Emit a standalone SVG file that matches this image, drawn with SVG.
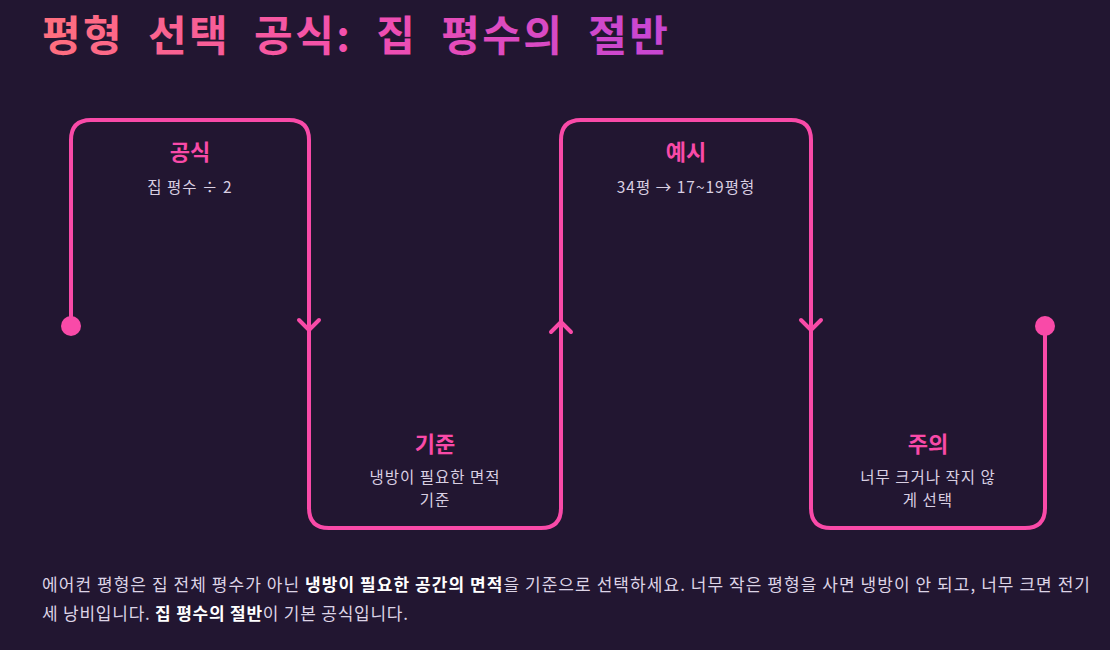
<svg xmlns="http://www.w3.org/2000/svg" width="1110" height="650" viewBox="0 0 1110 650">
<defs>
<linearGradient id="tg" x1="42" y1="0" x2="670" y2="0" gradientUnits="userSpaceOnUse">
<stop offset="0" stop-color="#ff6f7d"/>
<stop offset="0.5" stop-color="#f24fae"/>
<stop offset="1" stop-color="#c646d4"/>
</linearGradient>
<style>
.t{font-family:"Noto Sans CJK KR","Noto Sans",sans-serif}
.h{font-size:22px;font-weight:700;fill:#f94aa8;text-anchor:middle}
.s{font-size:15.5px;fill:#d9cfe2;text-anchor:middle;letter-spacing:1px}
.p{font-size:17px;fill:#ddd4e6}
.b{font-weight:700;fill:#ffffff}
.ln{fill:none;stroke:#f94aa8;stroke-width:4;stroke-linecap:round;stroke-linejoin:round}
</style>
</defs>
<rect width="1110" height="650" fill="#221631"/>
<text class="t" x="42" y="51" font-size="42" font-weight="700" fill="url(#tg)" word-spacing="12" textLength="626" lengthAdjust="spacing">평형 선택 공식: 집 평수의 절반</text>
<g id="connectors">
<path class="ln" d="M71 326 V140 Q71 120 91 120 H289 Q309 120 309 140 V508 Q309 528 329 528 H541 Q561 528 561 508 V140 Q561 120 581 120 H791 Q811 120 811 140 V508 Q811 528 831 528 H1025 Q1045 528 1045 508 V326"/>
<path class="ln" d="M299 320 L309 330 L319 320"/>
<path class="ln" d="M551 332 L561 322 L571 332"/>
<path class="ln" d="M801 320 L811 330 L821 320"/>
<circle cx="71" cy="326" r="10" fill="#f94aa8"/>
<circle cx="1045" cy="326" r="10" fill="#f94aa8"/>
</g>
<g id="node-formula">
<text class="t h" x="190" y="160">공식</text>
<text class="t s" x="190" y="193">집 평수 ÷ 2</text>
</g>
<g id="node-criterion">
<text class="t h" x="435" y="452">기준</text>
<text class="t s" x="435" y="483">냉방이 필요한 면적</text>
<text class="t s" x="435" y="506">기준</text>
</g>
<g id="node-example">
<text class="t h" x="686" y="160">예시</text>
<text class="t s" x="686" y="193">34평 → 17~19평형</text>
</g>
<g id="node-caution">
<text class="t h" x="928" y="452">주의</text>
<text class="t s" x="928" y="483">너무 크거나 작지 않</text>
<text class="t s" x="928" y="506">게 선택</text>
</g>
<text class="t p" x="42" y="591" textLength="1048" lengthAdjust="spacing">에어컨 평형은 집 전체 평수가 아닌 <tspan class="b">냉방이 필요한 공간의 면적</tspan>을 기준으로 선택하세요. 너무 작은 평형을 사면 냉방이 안 되고, 너무 크면 전기</text>
<text class="t p" x="42" y="620" textLength="366" lengthAdjust="spacing">세 낭비입니다. <tspan class="b">집 평수의 절반</tspan>이 기본 공식입니다.</text>
</svg>
